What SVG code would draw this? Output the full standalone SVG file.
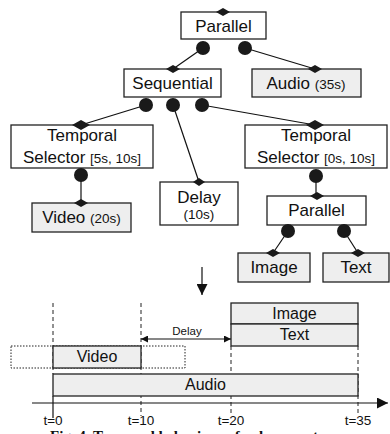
<svg xmlns="http://www.w3.org/2000/svg" width="390" height="434" viewBox="0 0 390 434">
<defs>
<style>
.box{fill:#ffffff;stroke:#222;stroke-width:1.3}
.gbox{fill:#eeeeee;stroke:#222;stroke-width:1.3}
.t{font-family:"Liberation Sans",Arial,sans-serif;font-size:17px;fill:#111;text-anchor:middle}
.s{font-size:13.5px}
.tl{font-family:"Liberation Sans",Arial,sans-serif;font-size:16px;fill:#111;text-anchor:middle}
.lab{font-family:"Liberation Sans",Arial,sans-serif;font-size:13.5px;fill:#111;text-anchor:middle}
.ln{stroke:#111;stroke-width:1.2;fill:none}
.dash{stroke:#222;stroke-width:1;stroke-dasharray:4 3;fill:none}
.dot{stroke:#222;stroke-width:1;stroke-dasharray:1.5 1.5;fill:none}
.c{fill:#1a1a1a}
.d{fill:#1a1a1a}
</style>
<marker id="ah" viewBox="0 0 10 10" refX="10" refY="5" markerWidth="7" markerHeight="7" markerUnits="userSpaceOnUse" orient="auto-start-reverse"><path d="M0,0 L10,5 L0,10 z" fill="#111"/></marker>
<marker id="ahb" viewBox="0 0 10 10" refX="10" refY="5" markerWidth="11" markerHeight="11" markerUnits="userSpaceOnUse" orient="auto"><path d="M0,0 L10,5 L0,10 z" fill="#111"/></marker>
</defs>

<g id="connectors">
<line class="ln" x1="203" y1="48" x2="173" y2="69"/>
<line class="ln" x1="245" y1="48" x2="315" y2="69"/>
<line class="ln" x1="146" y1="105" x2="81" y2="125"/>
<line class="ln" x1="173" y1="105" x2="199" y2="182"/>
<line class="ln" x1="202" y1="105" x2="315" y2="125"/>
<line class="ln" x1="81" y1="175" x2="81" y2="203"/>
<line class="ln" x1="316" y1="176" x2="316" y2="196"/>
<line class="ln" x1="288" y1="231" x2="273" y2="253"/>
<line class="ln" x1="344" y1="231" x2="358" y2="253"/>
<line class="ln" x1="202" y1="267" x2="202" y2="295" marker-end="url(#ahb)"/>
</g>

<g id="n-parallel">
<rect class="box" x="181" y="12" width="85" height="27"/>
<text class="t" x="223.5" y="32">Parallel</text>
<path class="d" d="M216,12 L223,8 L230,12 L223,16 z"/>
<circle class="c" cx="203" cy="48" r="7"/>
<circle class="c" cx="245" cy="48" r="7"/>
</g>

<g id="n-sequential">
<rect class="box" x="124" y="69" width="97" height="28"/>
<text class="t" x="172.5" y="89">Sequential</text>
<path class="d" d="M166,69 L173,65 L180,69 L173,73 z"/>
<circle class="c" cx="146" cy="105" r="7"/>
<circle class="c" cx="173" cy="105" r="7"/>
<circle class="c" cx="202" cy="105" r="7"/>
</g>

<g id="n-audio">
<rect class="gbox" x="252" y="69" width="109" height="28"/>
<text class="t" x="306" y="89">Audio <tspan class="s">(35s)</tspan></text>
<path class="d" d="M308,69 L315,65 L322,69 L315,73 z"/>
</g>

<g id="n-ts1">
<rect class="box" x="11" y="125" width="142" height="43"/>
<text class="t" x="82" y="141">Temporal</text>
<text class="t" x="82" y="163">Selector <tspan class="s">[5s, 10s]</tspan></text>
<path class="d" d="M72,125 L81,120 L90,125 L81,130 z"/>
<circle class="c" cx="81" cy="175" r="7"/>
</g>

<g id="n-video">
<rect class="gbox" x="32" y="203" width="99" height="29"/>
<text class="t" x="81.5" y="223">Video <tspan class="s">(20s)</tspan></text>
<path class="d" d="M74,203 L81,199 L88,203 L81,207 z"/>
</g>

<g id="n-delay">
<rect class="box" x="160" y="182" width="78" height="43"/>
<text class="t" x="199" y="203">Delay</text>
<text class="t s" x="199" y="219">(10s)</text>
<path class="d" d="M193,182 L199,178 L205,182 L199,186 z"/>
</g>

<g id="n-ts2">
<rect class="box" x="245" y="125" width="142" height="43"/>
<text class="t" x="316" y="141">Temporal</text>
<text class="t" x="316" y="163">Selector <tspan class="s">[0s, 10s]</tspan></text>
<path class="d" d="M306,125 L315,120 L324,125 L315,130 z"/>
<circle class="c" cx="316" cy="176" r="7"/>
</g>

<g id="n-parallel2">
<rect class="box" x="267" y="196" width="99" height="29"/>
<text class="t" x="316.5" y="216">Parallel</text>
<path class="d" d="M310,196 L317,192 L324,196 L317,200 z"/>
<circle class="c" cx="288" cy="231" r="7"/>
<circle class="c" cx="344" cy="231" r="7"/>
</g>

<g id="n-image">
<rect class="gbox" x="238" y="253" width="72" height="29"/>
<text class="t" x="274" y="273">Image</text>
<path class="d" d="M266,253 L273,249 L280,253 L273,257 z"/>
</g>

<g id="n-text">
<rect class="gbox" x="323" y="253" width="66" height="29"/>
<text class="t" x="356" y="273">Text</text>
<path class="d" d="M351,253 L358,249 L365,253 L358,257 z"/>
</g>

<g id="timeline">
<line class="dash" x1="53" y1="303" x2="53" y2="374"/>
<line class="ln" x1="53" y1="396" x2="53" y2="418" stroke-width="1.4"/>
<line class="dash" x1="141" y1="303" x2="141" y2="416"/>
<line class="dash" x1="231" y1="346" x2="231" y2="416"/>
<line class="dash" x1="358" y1="346" x2="358" y2="416"/>
<rect class="gbox" x="231" y="303" width="127" height="21"/>
<text class="tl" x="294.5" y="319">Image</text>
<rect class="gbox" x="231" y="324" width="127" height="22"/>
<text class="tl" x="294.5" y="340">Text</text>
<line class="ln" x1="141" y1="339" x2="231" y2="339" marker-start="url(#ah)" marker-end="url(#ah)"/>
<text font-family="Liberation Sans, Arial, sans-serif" font-size="11.5" fill="#111" text-anchor="middle" x="187" y="335">Delay</text>
<rect class="dot" x="11" y="346" width="174" height="22"/>
<rect class="gbox" x="53" y="346" width="88" height="22"/>
<text class="tl" x="97" y="362">Video</text>
<rect class="gbox" x="53" y="374" width="305" height="22"/>
<text class="tl" x="205.5" y="390">Audio</text>
<line class="ln" x1="32" y1="403" x2="388" y2="403" marker-end="url(#ahb)"/>
<text class="lab" x="53" y="425">t=0</text>
<text class="lab" x="141" y="425">t=10</text>
<text class="lab" x="231" y="425">t=20</text>
<text class="lab" x="358" y="425">t=35</text>
</g>

<text font-family="Liberation Serif, Times New Roman, serif" font-weight="bold" font-size="15" fill="#111" x="50" y="441">Fig. 4. Temporal behaviour of a document</text>
</svg>
